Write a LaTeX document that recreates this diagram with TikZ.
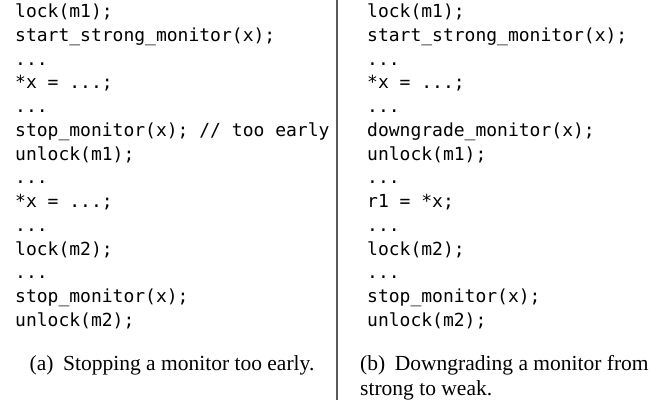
\documentclass[tikz,border=0pt]{standalone}
\usepackage{fontspec}
\setmainfont{Liberation Serif}
\setmonofont{DejaVu Sans Mono}
\usepackage{tikz}
\usetikzlibrary{positioning}

\begin{document}
\begin{tikzpicture}[
        x=1pt, y=1pt,
        every node/.style={inner sep=0pt},
        code/.style={anchor=base west, align=left, font=\fontsize{18}{23.75}\selectfont\ttfamily},
        caption/.style={anchor=base, font=\fontsize{21.5}{25}\selectfont},
        divider/.style={draw=black!65, line width=1.2pt}
    ]
        \useasboundingbox (0,0) rectangle (664,-400);
        % Left column
        \node[code] (codeA) at (15,-326.25) {lock(m1);\\
start\_strong\_monitor(x);\\
...\\
*x = ...;\\
...\\
stop\_monitor(x); // too early\\
unlock(m1);\\
...\\
*x = ...;\\
...\\
lock(m2);\\
...\\
stop\_monitor(x);\\
unlock(m2);};
        \node[caption] (capA) at (172,-370) {(a)\hspace{0.45em}Stopping a monitor too early.};
        % Right column
        \node[code] (codeB) at (367,-326.25) {lock(m1);\\
start\_strong\_monitor(x);\\
...\\
*x = ...;\\
...\\
downgrade\_monitor(x);\\
unlock(m1);\\
...\\
r1 = *x;\\
...\\
lock(m2);\\
...\\
stop\_monitor(x);\\
unlock(m2);};
        \node[caption, anchor=base west, align=left] (capB) at (360,-395) {(b)\hspace{0.45em}Downgrading a monitor from\\strong to weak.};
        % Separator
        \coordinate (sepTop) at (337,0);
        \coordinate (sepBot) at (337,-400);
        \draw[divider] (sepTop) -- (sepBot);
    \end{tikzpicture}
\end{document}
